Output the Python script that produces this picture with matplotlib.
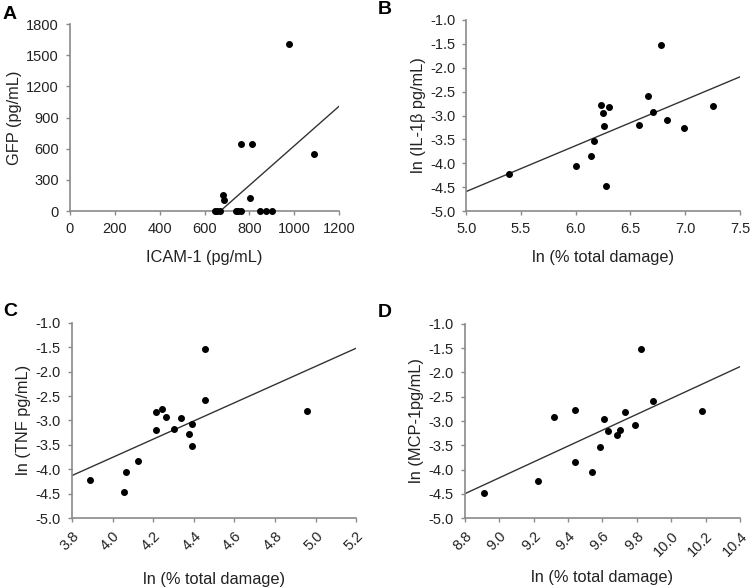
import matplotlib
matplotlib.use("Agg")
import matplotlib.pyplot as plt

plt.rcParams["font.family"] = ["Liberation Sans", "DejaVu Sans"]

# Panel A: ICAM-1 vs GFP
icam = [978, 1087, 761, 813, 683, 688, 801,
        647, 657, 668, 739, 751, 764, 845, 873, 900]
gfp = [1604, 552, 648, 648, 157, 103, 128,
       0, 0, 0, 0, 0, 0, 0, 0, 0]
fit_a_x = [670, 1200]
fit_a_y = [0, 1010]

# Panel B: ln(% total damage) vs ln(IL-1b)
dmg_b = [5.39, 6.00, 6.14, 6.17, 6.23, 6.25, 6.26, 6.30,
         6.28, 6.58, 6.66, 6.71, 6.78, 6.83, 6.99, 7.25]
il1b = [-4.23, -4.06, -3.84, -3.53, -2.77, -2.95, -3.21, -2.82,
        -4.48, -3.19, -2.59, -2.93, -1.52, -3.09, -3.27, -2.80]
fit_b_x = [5.0, 7.5]
fit_b_y = [-4.59, -2.19]

# Panel C: ln(% total damage) vs ln(TNF)
dmg_c = [3.89, 4.058, 4.066, 4.124, 4.214, 4.216, 4.244, 4.263,
         4.303, 4.337, 4.374, 4.39, 4.393, 4.456, 4.457, 4.959]
tnf = [-4.23, -4.47, -4.06, -3.83, -2.82, -3.19, -2.77, -2.92,
       -3.18, -2.95, -3.28, -3.08, -3.52, -1.53, -2.59, -2.80]
fit_c_x = [3.8, 5.2]
fit_c_y = [-4.13, -1.52]

# Panel D: ln(% total damage) vs ln(MCP-1)
dmg_d = [8.91, 9.224, 9.319, 9.44, 9.443, 9.54, 9.585, 9.612,
         9.631, 9.684, 9.703, 9.734, 9.79, 9.823, 9.897, 10.18]
mcp1 = [-4.48, -4.24, -2.92, -2.77, -3.84, -4.06, -3.53, -2.95,
        -3.20, -3.28, -3.19, -2.81, -3.08, -1.52, -2.59, -2.80]
fit_d_x = [8.8, 10.4]
fit_d_y = [-4.50, -1.88]

ln_ticks = [-1.0, -1.5, -2.0, -2.5, -3.0, -3.5, -4.0, -4.5, -5.0]

SPINE = "#8a8a8a"
TEXT = "#222222"
LABEL_SIZE = 11.8


def style_axes(ax):
    for side in ["top", "right"]:
        ax.spines[side].set_visible(False)
    for side in ["left", "bottom"]:
        ax.spines[side].set_color(SPINE)
        ax.spines[side].set_linewidth(1.2)
    ax.tick_params(direction="out", length=3, width=1, color=SPINE,
                   labelsize=10.5, labelcolor=TEXT, pad=5)


def panel(ax, x, y, fx, fy):
    ax.scatter(x, y, s=16, color="black", zorder=3, clip_on=False)
    ax.plot(fx, fy, color="#333333", linewidth=1)
    style_axes(ax)


fig = plt.figure(figsize=(7.52, 5.88), dpi=100)

ax_a = fig.add_axes([0.093, 0.641, 0.358, 0.318])
panel(ax_a, icam, gfp, fit_a_x, fit_a_y)
ax_a.set_xlim(0, 1200)
ax_a.set_ylim(0, 1800)
ax_a.set_xticks(range(0, 1201, 200))
ax_a.set_yticks(range(0, 1801, 300))
ax_a.set_xlabel("ICAM-1 (pg/mL)", fontsize=LABEL_SIZE, color=TEXT, labelpad=10)
ax_a.set_ylabel("GFP (pg/mL)", fontsize=LABEL_SIZE, color=TEXT, labelpad=3)

ax_b = fig.add_axes([0.620, 0.641, 0.364, 0.325])
panel(ax_b, dmg_b, il1b, fit_b_x, fit_b_y)
ax_b.set_xlim(5.0, 7.5)
ax_b.set_ylim(-5.0, -1.0)
ax_b.set_xticks([5.0, 5.5, 6.0, 6.5, 7.0, 7.5])
ax_b.set_yticks(ln_ticks)
ax_b.set_xticklabels([f"{v:.1f}" for v in [5.0, 5.5, 6.0, 6.5, 7.0, 7.5]])
ax_b.set_yticklabels([f"{v:.1f}" for v in ln_ticks])
ax_b.set_xlabel("ln (% total damage)", fontsize=LABEL_SIZE, color=TEXT, labelpad=10)
ax_b.set_ylabel("ln (IL-1\u03b2 pg/mL)", fontsize=LABEL_SIZE, color=TEXT, labelpad=3)

ax_c = fig.add_axes([0.0957, 0.119, 0.378, 0.332])
panel(ax_c, dmg_c, tnf, fit_c_x, fit_c_y)
c_ticks = [3.8, 4.0, 4.2, 4.4, 4.6, 4.8, 5.0, 5.2]
ax_c.set_xlim(3.8, 5.2)
ax_c.set_ylim(-5.0, -1.0)
ax_c.set_xticks(c_ticks)
ax_c.set_xticklabels([f"{v:.1f}" for v in c_ticks], rotation=45,
                     ha="right", rotation_mode="anchor")
ax_c.set_yticks(ln_ticks)
ax_c.set_yticklabels([f"{v:.1f}" for v in ln_ticks])
ax_c.set_xlabel("ln (% total damage)", fontsize=LABEL_SIZE, color=TEXT, labelpad=13)
ax_c.set_ylabel("ln (TNF pg/mL)", fontsize=LABEL_SIZE, color=TEXT, labelpad=3)

ax_d = fig.add_axes([0.618, 0.119, 0.366, 0.330])
panel(ax_d, dmg_d, mcp1, fit_d_x, fit_d_y)
d_ticks = [8.8, 9.0, 9.2, 9.4, 9.6, 9.8, 10.0, 10.2, 10.4]
ax_d.set_xlim(8.8, 10.4)
ax_d.set_ylim(-5.0, -1.0)
ax_d.set_xticks(d_ticks)
ax_d.set_xticklabels([f"{v:.1f}" for v in d_ticks], rotation=45,
                     ha="right", rotation_mode="anchor")
ax_d.set_yticks(ln_ticks)
ax_d.set_yticklabels([f"{v:.1f}" for v in ln_ticks])
ax_d.set_xlabel("ln (% total damage)", fontsize=LABEL_SIZE, color=TEXT, labelpad=8)
ax_d.set_ylabel("ln (MCP-1pg/mL)", fontsize=LABEL_SIZE, color=TEXT, labelpad=3)

for letter, x, y in [("A", 0.013, 0.975), ("B", 0.512, 0.983),
                     ("C", 0.013, 0.471), ("D", 0.512, 0.469)]:
    fig.text(x, y, letter, fontsize=14, fontweight="bold", ha="center",
             va="center", color="black")

fig.savefig("out.png", dpi=100)
